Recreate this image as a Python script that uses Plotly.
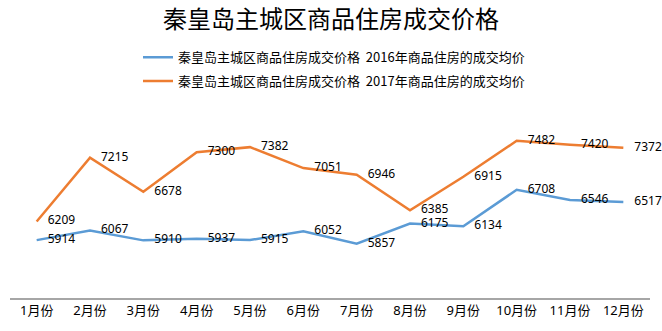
import plotly.graph_objects as go

months = ["1月份", "2月份", "3月份", "4月份", "5月份", "6月份",
          "7月份", "8月份", "9月份", "10月份", "11月份", "12月份"]
s2016 = [5914, 6067, 5910, 5937, 5915, 6052, 5857, 6175, 6134, 6708, 6546, 6517]
s2017 = [6209, 7215, 6678, 7300, 7382, 7051, 6946, 6385, 6915, 7482, 7420, 7372]
name2016 = "秦皇岛主城区商品住房成交价格  2016年商品住房的成交均价"
name2017 = "秦皇岛主城区商品住房成交价格  2017年商品住房的成交均价"
title = "秦皇岛主城区商品住房成交价格"

cjk = "Noto Sans CJK SC"
fig = go.Figure()
for name, vals, color, grp in [(name2016, s2016, "#5B9BD5", "a"),
                               (name2017, s2017, "#ED7D31", "b")]:
    fig.add_trace(go.Scatter(
        x=months, y=vals, name=name, mode="lines+markers+text",
        line=dict(color=color, width=2.5),
        marker=dict(size=16, color="rgba(0,0,0,0)"),
        text=[str(v) for v in vals], textposition="middle right",
        textfont=dict(family="Noto Sans, " + cjk, size=12, color="#000000"),
        legendgroup=grp, cliponaxis=False,
    ))

fig.update_layout(
    width=662, height=331,
    margin=dict(l=10, r=12, t=108, b=33),
    paper_bgcolor="white", plot_bgcolor="white",
    title=dict(text=title, x=0.5, xanchor="center", y=0.94, yanchor="middle",
               font=dict(family=cjk, size=24, color="#000000")),
    legend=dict(x=0.2, xanchor="left", y=1.062, yanchor="bottom",
                font=dict(family=cjk, size=13, color="#000000"),
                tracegroupgap=4, traceorder="grouped",
                bgcolor="rgba(0,0,0,0)"),
    showlegend=True,
    xaxis=dict(showgrid=False, showline=True, linecolor="#A6A6A6", linewidth=1.5,
               ticks="", tickfont=dict(family="Noto Sans, " + cjk, size=13, color="#000000"),
               range=[-0.5, 11.5], fixedrange=True),
    yaxis=dict(range=[5000, 8000], showgrid=False, showline=False, zeroline=False,
               showticklabels=False, ticks=""),
)
fig.write_html("out.html")
